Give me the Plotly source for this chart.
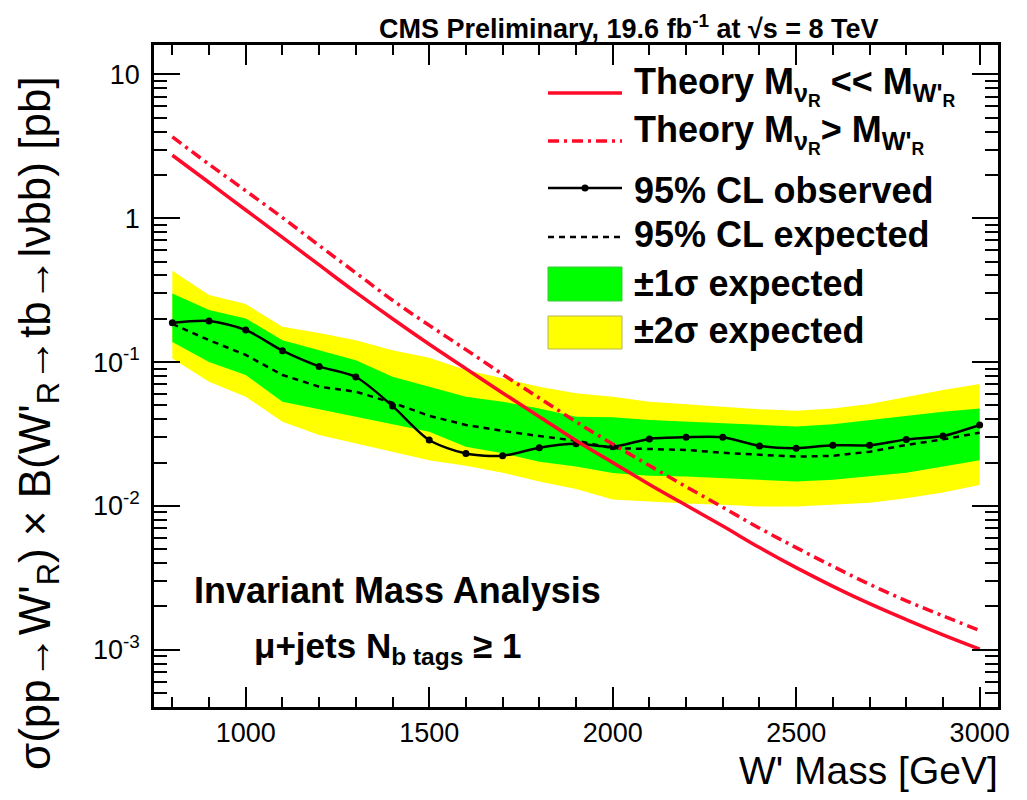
import plotly.graph_objects as go

# ---------------- data ----------------
mass = [800, 900, 1000, 1100, 1200, 1300, 1400, 1500, 1600, 1700, 1800, 1900,
        2000, 2100, 2200, 2300, 2400, 2500, 2600, 2700, 2800, 2900, 3000]

observed = [0.1875, 0.193, 0.167, 0.120, 0.0933, 0.0787, 0.0494, 0.0287, 0.0231,
            0.0223, 0.0254, 0.0270, 0.0258, 0.0292, 0.0300, 0.0300, 0.0261, 0.0252,
            0.0264, 0.0264, 0.0290, 0.0306, 0.0365]

expected = [0.184, 0.142, 0.112, 0.0813, 0.0674, 0.0622, 0.0521, 0.0423, 0.0365,
            0.0332, 0.0306, 0.0284, 0.0252, 0.0248, 0.0245, 0.0234, 0.0226, 0.0220,
            0.0223, 0.0238, 0.0265, 0.0290, 0.0323]

one_sigma_hi = [0.300, 0.230, 0.201, 0.142, 0.121, 0.103, 0.079, 0.0674, 0.0574,
                0.0530, 0.0476, 0.0417, 0.0413, 0.0396, 0.0385, 0.0375, 0.0365,
                0.0356, 0.0369, 0.0396, 0.0422, 0.0452, 0.0476]
one_sigma_lo = [0.138, 0.100, 0.0813, 0.0530, 0.0470, 0.0417, 0.0371, 0.0328,
                0.0258, 0.0232, 0.0203, 0.0188, 0.0169, 0.0162, 0.0160, 0.0156,
                0.0152, 0.0148, 0.0152, 0.0160, 0.0170, 0.0188, 0.0208]
two_sigma_hi = [0.431, 0.292, 0.253, 0.176, 0.159, 0.142, 0.121, 0.107, 0.088,
                0.0774, 0.0674, 0.0606, 0.0574, 0.0530, 0.0511, 0.0490, 0.0470,
                0.0459, 0.0476, 0.0511, 0.0574, 0.0640, 0.0703]
two_sigma_lo = [0.106, 0.073, 0.0574, 0.0385, 0.0311, 0.0272, 0.0238, 0.0208,
                0.0190, 0.0170, 0.0148, 0.0131, 0.0111, 0.0107, 0.0104, 0.0102,
                0.0099, 0.0099, 0.0102, 0.0105, 0.0113, 0.0124, 0.0140]

theory_light_nu = [2.74, 1.77, 1.14, 0.735, 0.473, 0.305, 0.200, 0.133, 0.090,
                   0.061, 0.0417, 0.0285, 0.0200, 0.0141, 0.0101, 0.00724, 0.00513,
                   0.00372, 0.00276, 0.00209, 0.00162, 0.00127, 0.00101]
theory_heavy_nu = [3.67, 2.37, 1.55, 1.01, 0.646, 0.417, 0.269, 0.180, 0.122,
                   0.0822, 0.0562, 0.0385, 0.0269, 0.0191, 0.0136, 0.00977, 0.0070,
                   0.00513, 0.0038, 0.00285, 0.00219, 0.00172, 0.00136]

y_tick_vals = [0.001, 0.01, 0.1, 1, 10]
y_tick_text = ["10<sup>-3</sup>", "10<sup>-2</sup>", "10<sup>-1</sup>", "1", "10"]
x_tick_vals = [1000, 1500, 2000, 2500, 3000]

# ---------------- styling ----------------
RED = "#ff0a28"
GREEN = "#00ff00"
YELLOW = "#ffff00"
FONT = "Liberation Sans, Arial, Helvetica, sans-serif"

# page body has an 8px default margin: figure is offset by (8, 8)
OFF = 8
SCREEN_W, SCREEN_H = 1027, 800
# plot frame in screen pixels
L, R, T, B = 154, 998, 45, 707
W, H = SCREEN_W - OFF, SCREEN_H - OFF


def px(x):
    return (x - L) / (R - L)


def py(y):
    return (B - y) / (B - T)


fig = go.Figure()

fig.add_trace(go.Scatter(x=mass, y=two_sigma_lo, mode="lines",
                         line=dict(width=0, color=YELLOW), showlegend=False,
                         hoverinfo="skip"))
fig.add_trace(go.Scatter(x=mass, y=two_sigma_hi, mode="lines", fill="tonexty",
                         fillcolor=YELLOW, line=dict(width=0, color=YELLOW),
                         showlegend=False, hoverinfo="skip"))
fig.add_trace(go.Scatter(x=mass, y=one_sigma_lo, mode="lines",
                         line=dict(width=0, color=GREEN), showlegend=False,
                         hoverinfo="skip"))
fig.add_trace(go.Scatter(x=mass, y=one_sigma_hi, mode="lines", fill="tonexty",
                         fillcolor=GREEN, line=dict(width=0, color=GREEN),
                         showlegend=False, hoverinfo="skip"))
fig.add_trace(go.Scatter(x=mass, y=expected, mode="lines",
                         line=dict(color="black", width=2.5, dash="6px,5px"),
                         showlegend=False))
fig.add_trace(go.Scatter(x=mass, y=observed, mode="lines+markers",
                         line=dict(color="black", width=2.5, shape="spline",
                                   smoothing=0.8),
                         marker=dict(color="black", size=7), showlegend=False))
fig.add_trace(go.Scatter(x=mass, y=theory_light_nu, mode="lines",
                         line=dict(color=RED, width=3.5, shape="spline"),
                         showlegend=False))
fig.add_trace(go.Scatter(x=mass, y=theory_heavy_nu, mode="lines",
                         line=dict(color=RED, width=3.5, shape="spline",
                                   dash="11px,5px,3px,5px"),
                         showlegend=False))

# ---------------- manual legend ----------------
shapes = []
annotations = []
lx0, lx1 = px(548), px(622)
text_x = px(632)
leg_font = dict(family=FONT, size=36, color="black")

shapes.append(dict(type="line", xref="paper", yref="paper", x0=lx0, x1=lx1,
                   y0=py(93), y1=py(93), line=dict(color=RED, width=3.5)))
shapes.append(dict(type="line", xref="paper", yref="paper", x0=lx0, x1=lx1,
                   y0=py(141), y1=py(141),
                   line=dict(color=RED, width=3.5, dash="11px,5px,3px,5px")))
shapes.append(dict(type="line", xref="paper", yref="paper", x0=lx0, x1=lx1,
                   y0=py(188), y1=py(188), line=dict(color="black", width=2.5)))
shapes.append(dict(type="circle", xref="paper", yref="paper",
                   x0=px(581.5), x1=px(588.5), y0=py(184.5), y1=py(191.5),
                   fillcolor="black", line=dict(color="black", width=0)))
shapes.append(dict(type="line", xref="paper", yref="paper", x0=lx0, x1=lx1,
                   y0=py(237), y1=py(237),
                   line=dict(color="black", width=2.5, dash="6px,5px")))
shapes.append(dict(type="rect", xref="paper", yref="paper", x0=lx0, x1=lx1,
                   y0=py(301), y1=py(267), fillcolor=GREEN,
                   line=dict(color="#3cc83c", width=1)))
shapes.append(dict(type="rect", xref="paper", yref="paper", x0=lx0, x1=lx1,
                   y0=py(349), y1=py(316), fillcolor=YELLOW,
                   line=dict(color="#b4b45a", width=1)))

legend_rows = [
    ("<b>Theory M<sub>ν<sub>R</sub></sub> << M<sub>W'<sub>R</sub></sub></b>", 86),
    ("<b>Theory M<sub>ν<sub>R</sub></sub>> M<sub>W'<sub>R</sub></sub></b>", 134),
    ("<b>95% CL observed</b>", 190),
    ("<b>95% CL expected</b>", 234),
    ("<b>±1σ expected</b>", 283),
    ("<b>±2σ expected</b>", 331),
]
for txt, yc in legend_rows:
    annotations.append(dict(xref="paper", yref="paper", x=text_x, y=py(yc),
                            xanchor="left", yanchor="middle", text=txt,
                            showarrow=False, font=leg_font))

# title
annotations.append(dict(xref="paper", yref="paper", x=px(629), y=py(27),
                        xanchor="center", yanchor="middle",
                        text="<b>CMS Preliminary, 19.6 fb<sup>-1</sup> at √s = 8 TeV</b>",
                        showarrow=False,
                        font=dict(family=FONT, size=27, color="black")))

# analysis label
annotations.append(dict(xref="paper", yref="paper", x=px(397), y=py(590),
                        xanchor="center", yanchor="middle",
                        text="<b>Invariant Mass Analysis</b>", showarrow=False,
                        font=dict(family=FONT, size=36, color="black")))
annotations.append(dict(xref="paper", yref="paper", x=px(387), y=py(648),
                        xanchor="center", yanchor="middle",
                        text="<b>μ+jets N<sub>b tags</sub> ≥ 1</b>", showarrow=False,
                        font=dict(family=FONT, size=35, color="black")))

# axis titles
annotations.append(dict(xref="paper", yref="paper", x=px(1000), y=py(770),
                        xanchor="right", yanchor="middle",
                        text="W' Mass [GeV]", showarrow=False,
                        font=dict(family=FONT, size=39, color="black")))
annotations.append(dict(xref="paper", yref="paper", x=px(38), y=py(423),
                        xanchor="center", yanchor="middle", textangle=-90,
                        text="σ(pp→W'<sub>R</sub>) × B(W'<sub>R</sub>→tb→lνbb) [pb]",
                        showarrow=False,
                        font=dict(family=FONT, size=44, color="black")))

y_minor = [m * 10 ** e for e in range(-4, 2) for m in range(2, 10)]

fig.update_layout(
    width=W, height=H,
    margin=dict(l=L - OFF, r=SCREEN_W - R, t=T - OFF, b=SCREEN_H - B),
    paper_bgcolor="white", plot_bgcolor="white",
    showlegend=False,
    shapes=shapes, annotations=annotations,
    xaxis=dict(range=[750, 3050], tickvals=x_tick_vals,
               ticks="inside", ticklen=20, tickwidth=1.5, tickcolor="black",
               minor=dict(dtick=100, tick0=0, ticks="inside", ticklen=10,
                          tickwidth=1.5, tickcolor="black", showgrid=False),
               showline=True, linewidth=2.5, linecolor="black", mirror="ticks",
               showgrid=False, zeroline=False,
               tickfont=dict(family=FONT, size=27, color="black")),
    yaxis=dict(type="log", range=[-3.398, 1.204], tickvals=y_tick_vals,
               ticktext=y_tick_text,
               ticks="inside", ticklen=26, tickwidth=1.5, tickcolor="black",
               minor=dict(tickmode="array", tickvals=y_minor, ticks="inside",
                          ticklen=13, tickwidth=1.5, tickcolor="black",
                          showgrid=False),
               showline=True, linewidth=2.5, linecolor="black", mirror="ticks",
               showgrid=False, zeroline=False, ticklabelstandoff=6,
               tickfont=dict(family=FONT, size=27, color="black")),
)

fig.write_html("out.html")
